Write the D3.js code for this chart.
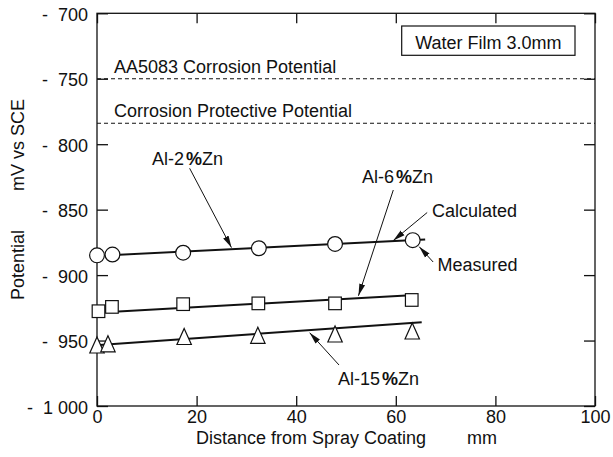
<!DOCTYPE html>
<html>
<head>
<meta charset="utf-8">
<script src="https://cdn.jsdelivr.net/npm/d3@7"></script>
<style>
  body { margin: 0; background: #fff; }
  svg text { font-family: "Liberation Sans", Arial, sans-serif; font-size: 18px; fill: #111; }
</style>
</head>
<body>
<div class="plot"></div>
<script>
// measured points (distance mm, potential mV)
var distances = [0, 3.1, 17.3, 32.5, 47.8, 63.4];
var al2Measured = [-884.9, -884.3, -882.9, -879.5, -876.2, -873.3];
var al6Distances = [0.3, 3.0, 17.3, 32.4, 47.8, 63.2];
var al6Measured = [-927.6, -924.3, -922.2, -921.6, -921.6, -919.0];
var al15Distances = [0, 2.2, 17.5, 32.3, 47.8, 63.3];
var al15Measured = [-953.4, -952.5, -946.9, -946.0, -945.0, -942.7];

// calculated lines (start / end)
var al2Calc = [[2.5, -884.8], [65.9, -872.8]];
var al6Calc = [[2.5, -928.2], [63.0, -915.3]];
var al15Calc = [[0.5, -953.4], [65.2, -936.0]];

// reference potentials
var refLevels = [-750, -784];
var refLabels = ["AA5083 Corrosion Potential", "Corrosion Protective Potential"];

// ticks (non-breaking spaces keep the wide gaps)
var yTicks = [-700, -750, -800, -850, -900, -950, -1000];
var yTickLabels = ["-\u00a0\u00a0700", "-\u00a0\u00a0750", "-\u00a0\u00a0800", "-\u00a0\u00a0850",
  "-\u00a0\u00a0900", "-\u00a0\u00a0950", "-\u00a0\u00a01\u00a0000"];
var xTicks = [0, 20, 40, 60, 80, 100];

// annotation arrows, from -> to in data units
var arrows = [
  [[18.6, -818.4], [27.0, -879.0]],
  [[59.5, -835.0], [52.5, -915.8]],
  [[66.3, -852.2], [59.5, -873.6]],
  [[67.5, -890.0], [64.7, -878.3]],
  [[48.6, -968.7], [42.7, -944.0]]
];

var W = 613, H = 457;
var margin = { top: 13.3, right: 18, bottom: 51, left: 97 };
var width = W - margin.left - margin.right,
  height = H - margin.top - margin.bottom;

var svg = d3.select(".plot")
  .append("svg")
  .attr("width", W)
  .attr("height", H);

svg.append("defs").append("marker")
  .attr("id", "head")
  .attr("markerUnits", "userSpaceOnUse")
  .attr("viewBox", "0 0 12 8")
  .attr("refX", 12)
  .attr("refY", 4)
  .attr("markerWidth", 12)
  .attr("markerHeight", 8)
  .attr("orient", "auto")
  .append("path")
  .attr("d", "M0,1 L12,4 L0,7 Z")
  .attr("fill", "#111");

var g = svg.append("g")
  .attr("transform", "translate(" + margin.left + "," + margin.top + ")");

var x = d3.scaleLinear().domain([0, 100]).range([0, width]);
var y = d3.scaleLinear().domain([-1000, -700]).range([height, 0]);

// axes with inward ticks
var left = g.append("g")
  .call(d3.axisLeft(y).tickValues(yTicks).tickSize(-11).tickPadding(9)
    .tickFormat(function (d, i) { return yTickLabels[i]; }));
var right = g.append("g")
  .attr("transform", "translate(" + width + ",0)")
  .call(d3.axisRight(y).tickValues(yTicks).tickSize(-11).tickFormat(""));
var bottom = g.append("g")
  .attr("transform", "translate(0," + height + ")")
  .call(d3.axisBottom(x).tickValues(xTicks).tickSize(-10).tickPadding(4));
var top = g.append("g")
  .call(d3.axisTop(x).tickValues(xTicks).tickSize(-10).tickFormat(""));

g.selectAll(".domain").remove();
g.selectAll(".tick line").attr("stroke", "#111").attr("stroke-width", 1.3);
g.selectAll(".tick text").attr("font-size", null).attr("font-family", null).attr("fill", "#111");
left.selectAll(".tick text").attr("dy", "0.4em");

g.append("rect")
  .attr("width", width)
  .attr("height", height)
  .attr("fill", "none")
  .attr("stroke", "#111")
  .attr("stroke-width", 1.3);

// reference lines
refLevels.forEach(function (v, i) {
  g.append("line")
    .attr("x1", x(0)).attr("x2", x(100))
    .attr("y1", y(v)).attr("y2", y(v))
    .attr("stroke", "#111")
    .attr("stroke-width", 1)
    .attr("stroke-dasharray", "4,3");
  g.append("text")
    .attr("x", x(0) + 17)
    .attr("y", y(v) - 6)
    .text(refLabels[i]);
});

// calculated lines
var line = d3.line()
  .x(function (d) { return x(d[0]); })
  .y(function (d) { return y(d[1]); });

[al2Calc, al6Calc, al15Calc].forEach(function (c) {
  g.append("path")
    .datum(c)
    .attr("d", line)
    .attr("fill", "none")
    .attr("stroke", "#111")
    .attr("stroke-width", 2);
});

// measured markers
g.selectAll(".circ")
  .data(distances.map(function (d, i) { return [d, al2Measured[i]]; }))
  .enter().append("circle")
  .attr("cx", function (d) { return x(d[0]); })
  .attr("cy", function (d) { return y(d[1]); })
  .attr("r", 7.4)
  .attr("fill", "#fff")
  .attr("stroke", "#111")
  .attr("stroke-width", 1.2);

g.selectAll(".sq")
  .data(al6Distances.map(function (d, i) { return [d, al6Measured[i]]; }))
  .enter().append("rect")
  .attr("x", function (d) { return x(d[0]) - 6.3; })
  .attr("y", function (d) { return y(d[1]) - 6.3; })
  .attr("width", 12.6)
  .attr("height", 12.6)
  .attr("fill", "#fff")
  .attr("stroke", "#111")
  .attr("stroke-width", 1.2);

g.selectAll(".tri")
  .data(al15Distances.map(function (d, i) { return [d, al15Measured[i]]; }))
  .enter().append("path")
  .attr("transform", function (d) { return "translate(" + x(d[0]) + "," + y(d[1]) + ")"; })
  .attr("d", "M0,-8 L7.2,8 L-7.2,8 Z")
  .attr("fill", "#fff")
  .attr("stroke", "#111")
  .attr("stroke-width", 1.2);

// arrows
arrows.forEach(function (a) {
  g.append("line")
    .attr("x1", x(a[0][0])).attr("y1", y(a[0][1]))
    .attr("x2", x(a[1][0])).attr("y2", y(a[1][1]))
    .attr("stroke", "#111")
    .attr("stroke-width", 1)
    .attr("marker-end", "url(#head)");
});

// labels
function alloy(px, py, num) {
  var t = svg.append("text").attr("x", px).attr("y", py);
  t.append("tspan").text("Al-" + num);
  t.append("tspan").attr("dx", 2).attr("font-weight", "bold").text("%");
  t.append("tspan").text("Zn");
}
alloy(152, 165, "2");
alloy(362, 183, "6");
alloy(338, 385, "15");

svg.append("text").attr("x", 432).attr("y", 217).text("Calculated");
svg.append("text").attr("x", 437.5).attr("y", 271).text("Measured");

// water film box
svg.append("rect")
  .attr("x", 401.7).attr("y", 26)
  .attr("width", 173.3).attr("height", 29.3)
  .attr("fill", "#fff")
  .attr("stroke", "#111")
  .attr("stroke-width", 1.2);
svg.append("text").attr("x", 488.3).attr("y", 48.5)
  .style("text-anchor", "middle")
  .text("Water Film 3.0mm");

// axis titles
svg.append("text").attr("x", 196).attr("y", 444).text("Distance from Spray Coating");
svg.append("text").attr("x", 467).attr("y", 444).text("mm");

svg.append("text")
  .attr("transform", "translate(24,265) rotate(-90)")
  .style("text-anchor", "middle")
  .text("Potential");
svg.append("text")
  .attr("transform", "translate(24,145) rotate(-90)")
  .style("text-anchor", "middle")
  .text("mV vs SCE");
</script>
</body>
</html>
